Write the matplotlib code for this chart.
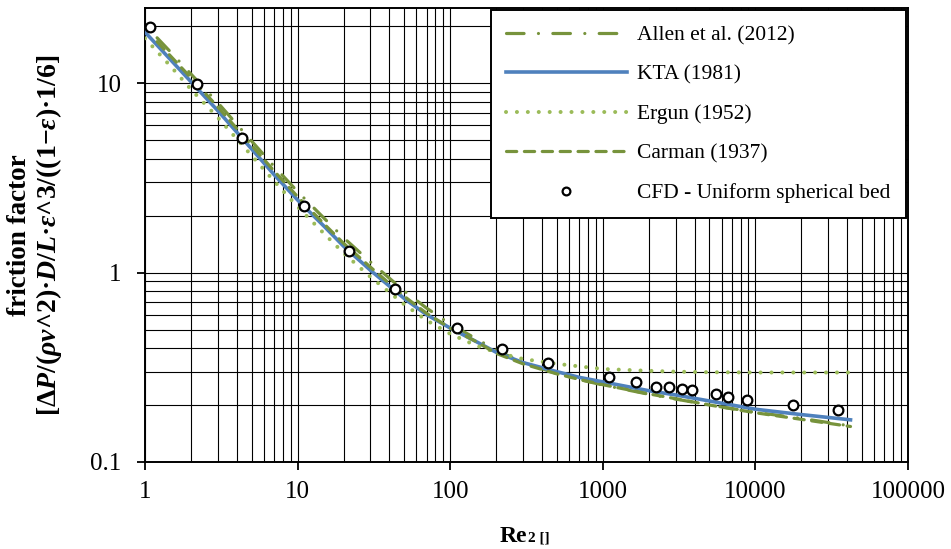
import matplotlib
matplotlib.use("Agg")
import matplotlib.pyplot as plt
from matplotlib.ticker import LogLocator, FixedLocator, FixedFormatter, NullFormatter

plt.rcParams["font.family"] = ["Liberation Serif", "DejaVu Serif"]
plt.rcParams["mathtext.fontset"] = "custom"
plt.rcParams["mathtext.rm"] = "Liberation Serif"
plt.rcParams["mathtext.it"] = "Liberation Serif:italic"
plt.rcParams["mathtext.bf"] = "Liberation Serif:bold"
plt.rcParams["mathtext.bfit"] = "Liberation Serif:italic:bold"

# curve read-outs (Re, friction factor)
re_curve = [1, 1.5, 2, 3, 5, 7, 10, 15, 20, 30, 50, 70, 100, 150, 200, 300,
            500, 700, 1000, 2000, 3000, 5000, 10000, 20000, 42000]
kta = [18.65, 13.1, 10.2, 7.17, 4.5, 3.3, 2.42, 1.75, 1.38, 1.03, 0.73, 0.60,
       0.51, 0.43, 0.38, 0.335, 0.30, 0.28, 0.265, 0.238, 0.226, 0.21, 0.19,
       0.178, 0.167]
ergun = [17.3, 12.1, 9.3, 6.6, 4.15, 3.05, 2.23, 1.6, 1.27, 0.95, 0.68, 0.56,
         0.475, 0.41, 0.38, 0.35, 0.33, 0.32, 0.31, 0.303, 0.30, 0.298, 0.297,
         0.297, 0.297]

re_dash = [1.2, 1.5, 2, 3, 5, 7, 10, 15, 20, 30, 50, 70, 100, 150, 200, 300,
           500, 700, 1000, 2000, 3000, 5000, 10000, 20000, 42000]
carman = [16.6, 13.7, 10.7, 7.5, 4.7, 3.45, 2.52, 1.8, 1.43, 1.07, 0.75, 0.61,
          0.51, 0.43, 0.375, 0.33, 0.292, 0.273, 0.256, 0.229, 0.216, 0.20,
          0.182, 0.168, 0.154]
allen = [17.4, 14.4, 11.2, 7.9, 4.95, 3.65, 2.68, 1.93, 1.53, 1.14, 0.80, 0.65,
         0.535, 0.445, 0.39, 0.335, 0.293, 0.273, 0.255, 0.228, 0.215, 0.20,
         0.183, 0.17, 0.155]

# CFD points
re_cfd = [1.08, 2.2, 4.34, 11.0, 21.7, 43.5, 110, 218, 437, 1103, 1643, 2222,
          2728, 3289, 3825, 5495, 6643, 8770, 17550, 34900]
f_cfd = [19.8, 9.96, 5.17, 2.24, 1.30, 0.815, 0.508, 0.394, 0.333, 0.282,
         0.263, 0.250, 0.250, 0.243, 0.240, 0.2285, 0.221, 0.2125, 0.199, 0.188]

x_ticks = [1, 10, 100, 1000, 10000, 100000]
x_labels = ["1", "10", "100", "1000", "10000", "100000"]
y_ticks = [0.1, 1, 10]
y_labels = ["0.1", "1", "10"]

fig = plt.figure(figsize=(9.51, 5.49), dpi=100)
ax = fig.add_axes([145 / 951, 1 - 462 / 549, 763 / 951, 454 / 549])

olive = "#77933C"
light = "#9BBB59"
blue = "#4F81BD"

ax.plot(re_dash, allen, color=olive, lw=2.3, ls=(0, (5.5, 4.5, 0.01, 4.5)),
        dash_capstyle="round", label="Allen et al. (2012)", zorder=3)
ax.plot(re_curve, kta, color=blue, lw=2.6, label="KTA (1981)", zorder=4)
ax.plot(re_curve, ergun, color=light, lw=2.9, ls=(0, (0.01, 2.7)),
        dash_capstyle="round", label="Ergun (1952)", zorder=5)
ax.plot(re_dash, carman, color=olive, lw=2.3, ls=(0, (3.2, 2.4)),
        dash_capstyle="round", label="Carman (1937)", zorder=5)
ax.plot(re_cfd, f_cfd, ls="none", marker="o", ms=7, mfc="white", mec="black",
        mew=1.6, label="CFD - Uniform spherical bed", zorder=6)

ax.set_xscale("log")
ax.set_yscale("log")
ax.set_xlim(1, 100000)
ax.set_ylim(0.1, 25)

ax.xaxis.set_major_locator(FixedLocator(x_ticks))
ax.xaxis.set_major_formatter(FixedFormatter(x_labels))
ax.yaxis.set_major_locator(FixedLocator(y_ticks))
ax.yaxis.set_major_formatter(FixedFormatter(y_labels))
ax.xaxis.set_minor_locator(LogLocator(base=10, subs=range(2, 10), numticks=20))
ax.yaxis.set_minor_locator(LogLocator(base=10, subs=range(2, 10), numticks=20))
ax.xaxis.set_minor_formatter(NullFormatter())
ax.yaxis.set_minor_formatter(NullFormatter())

ax.grid(True, which="both", color="black", lw=0.8)
ax.tick_params(which="major", direction="out", length=6, width=1.3,
               labelsize=18, pad=8)
ax.tick_params(axis="y", which="major", pad=11)
ax.tick_params(which="minor", length=0)
for s in ax.spines.values():
    s.set_linewidth(1.4)
    s.set_color("black")

leg = ax.legend(loc="upper right", fontsize=15.5, handlelength=5.6,
                handletextpad=0.5, labelspacing=0.9, numpoints=1,
                fancybox=False, framealpha=1, edgecolor="black",
                borderaxespad=0.1, borderpad=0.7, markerscale=0.8)
leg.get_frame().set_linewidth(1.4)
leg.set_zorder(10)

fig.text(20 / 951, 0.572, "friction factor", rotation=90, ha="center",
         va="center", fontsize=19.5, fontweight="bold")
label2 = (r"[Δ$\mathbfit{P}$/($\mathbfit{ρv}$^2)·$\mathbfit{D}$/$\mathbfit{L}$·"
          r"$\mathbfit{ε}$^3/((1−$\mathbfit{ε}$)·1/6]")
fig.text(49 / 951, 0.572, label2, rotation=90, ha="center", va="center",
         fontsize=20, fontweight="bold")

fig.text(527 / 951, 1 - 542 / 549, "Re", ha="right", va="baseline",
         fontsize=17, fontweight="bold")
fig.text(528 / 951, 1 - 542 / 549, "2 []", ha="left", va="baseline",
         fontsize=11, fontweight="bold")

fig.savefig("out.png", dpi=100)
